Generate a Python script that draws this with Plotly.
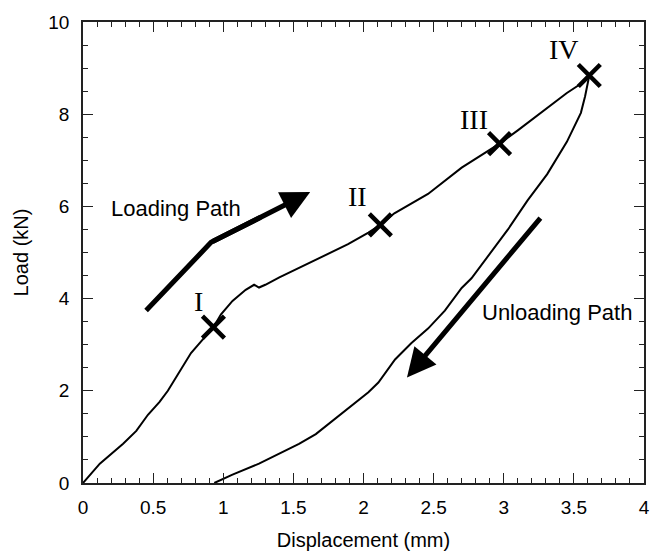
import plotly.graph_objects as go

# Loading path (displacement mm, load kN)
load_x = [0.0, 0.12, 0.286, 0.38, 0.463, 0.546, 0.605, 0.665, 0.711, 0.77, 0.83, 0.93, 0.984, 1.066,
          1.16, 1.22, 1.255, 1.30, 1.40, 1.51, 1.633, 1.75, 1.89, 2.035, 2.12, 2.22, 2.46, 2.70, 2.86,
          2.97, 3.10, 3.29, 3.45, 3.55, 3.61]
load_y = [0.0, 0.42, 0.85, 1.13, 1.48, 1.76, 2.0, 2.29, 2.54, 2.82, 3.03, 3.38, 3.66, 3.95,
          4.19, 4.30, 4.24, 4.30, 4.46, 4.62, 4.79, 4.97, 5.18, 5.43, 5.60, 5.85, 6.27, 6.84, 7.15,
          7.36, 7.65, 8.10, 8.46, 8.66, 8.84]

# Unloading path
unload_x = [3.61, 3.58, 3.55, 3.45, 3.31, 3.17, 3.03, 2.86, 2.77, 2.70, 2.58, 2.46, 2.34, 2.225,
            2.106, 2.035, 1.89, 1.75, 1.66, 1.54, 1.40, 1.255, 1.066, 0.936]
unload_y = [8.84, 8.39, 8.03, 7.40, 6.70, 6.13, 5.50, 4.79, 4.44, 4.23, 3.74, 3.35, 3.03, 2.68,
            2.18, 1.97, 1.62, 1.27, 1.06, 0.85, 0.63, 0.42, 0.18, 0.0]

# Marked stages
stage_labels = ["I", "II", "III", "IV"]
stage_x = [0.93, 2.12, 2.97, 3.61]
stage_y = [3.38, 5.60, 7.36, 8.84]
stage_label_x = [0.82, 1.96, 2.79, 3.43]
stage_label_y = [3.93, 6.22, 7.88, 9.40]

# Arrows
loading_arrow_x = [0.45, 0.913, 1.62]
loading_arrow_y = [3.74, 5.22, 6.31]
unloading_arrow_x = [3.27, 2.31]
unloading_arrow_y = [5.78, 2.29]

fig = go.Figure()
fig.add_trace(go.Scatter(x=load_x, y=load_y, mode="lines",
                         line=dict(color="black", width=2), showlegend=False))
fig.add_trace(go.Scatter(x=unload_x, y=unload_y, mode="lines",
                         line=dict(color="black", width=2), showlegend=False))
fig.add_trace(go.Scatter(x=stage_x, y=stage_y, mode="markers",
                         marker=dict(symbol="x-thin", size=22, line=dict(color="black", width=4.5)),
                         showlegend=False))

# shaft of loading arrow (tail -> bend -> part way to the tip), head drawn by annotation
mid_x = loading_arrow_x[1] + 0.5 * (loading_arrow_x[2] - loading_arrow_x[1])
mid_y = loading_arrow_y[1] + 0.5 * (loading_arrow_y[2] - loading_arrow_y[1])
fig.add_trace(go.Scatter(x=[loading_arrow_x[0], loading_arrow_x[1], mid_x],
                         y=[loading_arrow_y[0], loading_arrow_y[1], mid_y], mode="lines",
                         line=dict(color="black", width=5), showlegend=False))

fig.add_annotation(x=loading_arrow_x[2], y=loading_arrow_y[2], ax=loading_arrow_x[1], ay=loading_arrow_y[1],
                   xref="x", yref="y", axref="x", ayref="y", text="", showarrow=True,
                   arrowhead=2, arrowsize=1.15, arrowwidth=5, arrowcolor="black")
fig.add_annotation(x=unloading_arrow_x[1], y=unloading_arrow_y[1], ax=unloading_arrow_x[0], ay=unloading_arrow_y[0],
                   xref="x", yref="y", axref="x", ayref="y", text="", showarrow=True,
                   arrowhead=2, arrowsize=1.15, arrowwidth=5, arrowcolor="black")

for lab, lx, ly in zip(stage_labels, stage_label_x, stage_label_y):
    fig.add_annotation(x=lx, y=ly, text=lab, showarrow=False,
                       font=dict(family="Liberation Serif", size=28, color="black"))

fig.add_annotation(x=0.66, y=5.95, text="Loading Path", showarrow=False,
                   font=dict(family="Liberation Sans", size=22, color="black"))
fig.add_annotation(x=3.38, y=3.70, text="Unloading Path", showarrow=False,
                   font=dict(family="Liberation Sans", size=22, color="black"))

axis_common = dict(showgrid=False, zeroline=False, showline=True, linecolor="#222", linewidth=1.5,
                   mirror="allticks", ticks="inside", ticklen=10, tickcolor="#222", tickwidth=1,
                   tickfont=dict(family="Liberation Sans", size=19, color="black"))

fig.update_xaxes(range=[0, 4], dtick=0.5, tick0=0,
                 minor=dict(dtick=0.1, ticks="inside", ticklen=5, tickcolor="#222"),
                 title=dict(text="Displacement (mm)", font=dict(family="Liberation Sans", size=20, color="black"),
                            standoff=16),
                 ticklabelstandoff=6,
                 **axis_common)
fig.update_yaxes(range=[0, 10], dtick=2, tick0=0,
                 minor=dict(dtick=0.5, ticks="inside", ticklen=5, tickcolor="#222"),
                 title=dict(text="Load (kN)", font=dict(family="Liberation Sans", size=20, color="black"),
                            standoff=14),
                 ticklabelstandoff=8,
                 **axis_common)

fig.update_layout(width=662, height=560, margin=dict(l=83, r=15, t=17, b=70),
                  plot_bgcolor="white", paper_bgcolor="white", showlegend=False)

fig.write_html("out.html")
